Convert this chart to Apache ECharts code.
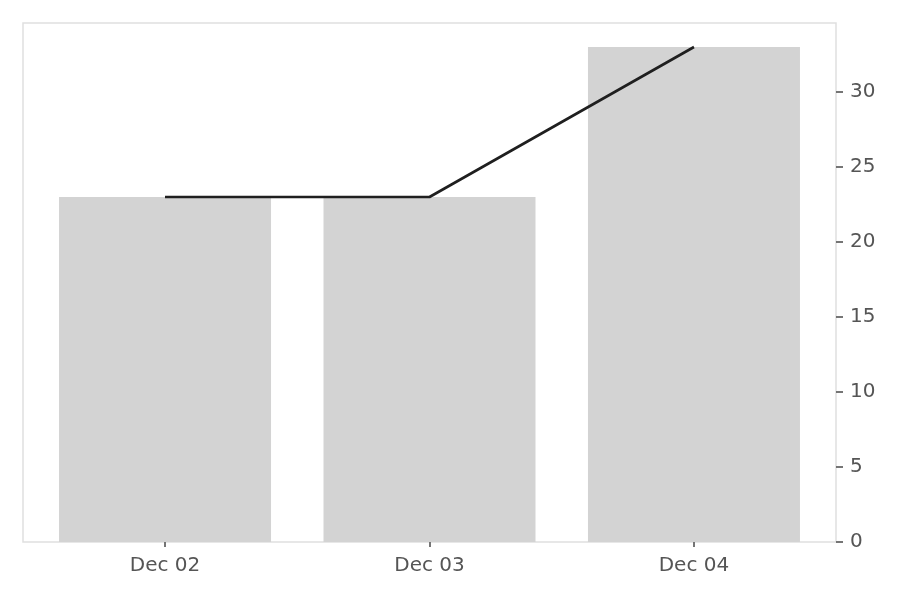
<!DOCTYPE html>
<html>
<head>
<meta charset="utf-8">
<script src="https://cdn.jsdelivr.net/npm/echarts@6/dist/echarts.min.js"></script>
<style>
  html, body { margin: 0; padding: 0; background: #fff; }
  #chart { width: 900px; height: 600px; }
</style>
</head>
<body>
<div id="chart"></div>
<script>
// data
const categories = ['Dec 02', 'Dec 03', 'Dec 04']
const barValues = [23, 23, 33]
const lineValues = [23, 23, 33]
const yTicks = [0, 5, 10, 15, 20, 25, 30]

const chart = echarts.init(document.getElementById('chart'))

const labelStyle = {
  color: '#555555',
  fontFamily: 'DejaVu Sans',
  fontSize: 20
}

const option = {
  animation: false,
  backgroundColor: '#ffffff',
  grid: {
    left: 23,
    right: 64,
    top: 23,
    bottom: 58,
    show: true,
    borderColor: '#e0e0e0',
    borderWidth: 1.5
  },
  xAxis: {
    type: 'value',
    min: -0.537,
    max: 2.537,
    splitLine: { show: false },
    axisLine: { show: false, onZero: false },
    axisTick: {
      show: true,
      length: 5,
      lineStyle: { color: '#666666', width: 1.8 },
      customValues: [0, 1, 2]
    },
    axisLabel: {
      ...labelStyle,
      margin: 14,
      customValues: [0, 1, 2],
      formatter: v => categories[Math.round(v)]
    }
  },
  yAxis: {
    type: 'value',
    position: 'right',
    min: 0,
    max: 34.6,
    splitLine: { show: false },
    axisLine: { show: false, onZero: false },
    axisTick: {
      show: true,
      length: 7,
      lineStyle: { color: '#666666', width: 1.8 },
      customValues: yTicks
    },
    axisLabel: {
      ...labelStyle,
      margin: 14,
      padding: [4, 0, 0, 0],
      customValues: yTicks
    }
  },
  series: [
    {
      type: 'bar',
      data: barValues.map((v, i) => [i, v]),
      barWidth: 212,
      itemStyle: { color: '#d3d3d3' }
    },
    {
      type: 'line',
      data: lineValues.map((v, i) => [i, v]),
      symbol: 'none',
      lineStyle: { color: '#1f1f1f', width: 2.6 }
    }
  ]
}

chart.setOption(option)
</script>
</body>
</html>
